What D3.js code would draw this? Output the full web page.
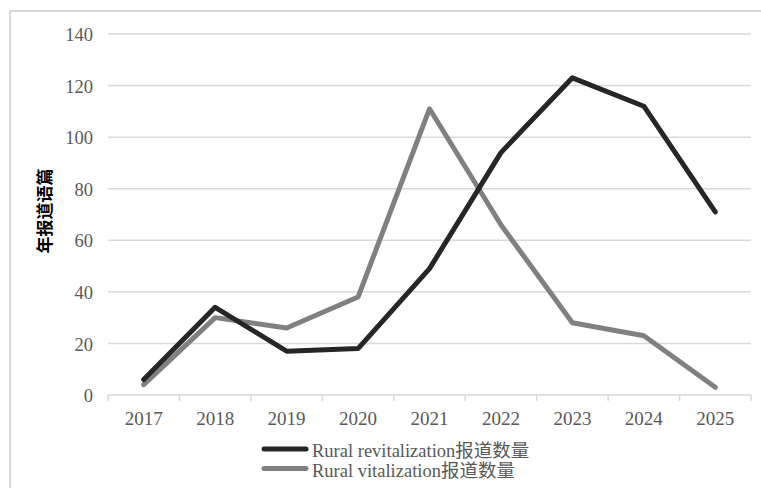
<!DOCTYPE html>
<html>
<head>
<meta charset="utf-8">
<script src="https://cdn.jsdelivr.net/npm/d3@7"></script>
<style>
  html, body { margin: 0; padding: 0; background: #fff; }
  svg { display: block; }
</style>
</head>
<body>
<svg id="chart" width="761" height="488"></svg>
<script>
// Yearly report counts for the two search terms
const years = ["2017", "2018", "2019", "2020", "2021", "2022", "2023", "2024", "2025"];
const revitalization = [6, 34, 17, 18, 49, 94, 123, 112, 71];
const vitalization = [4, 30, 26, 38, 111, 66, 28, 23, 3];
const yTicks = [0, 20, 40, 60, 80, 100, 120, 140];
const seriesNames = ["Rural revitalization报道数量", "Rural vitalization报道数量"];
const seriesColors = ["#262626", "#808080"];

const svg = d3.select("#chart");
const margin = { left: 108, right: 10, top: 34, bottom: 93 };
const plotW = 751 - margin.left;
const plotH = 395 - margin.top;

const serif = "'Liberation Serif', 'Times New Roman', 'Noto Sans CJK SC', serif";

// outer frame
svg.append("rect")
  .attr("x", 10).attr("y", 11)
  .attr("width", 770).attr("height", 500)
  .attr("fill", "none").attr("stroke", "#d9d9d9").attr("stroke-width", 2);

const x = d3.scaleBand().domain(years).range([margin.left, margin.left + plotW]);
const y = d3.scaleLinear().domain([0, 140]).range([margin.top + plotH, margin.top]);

// horizontal gridlines
svg.append("g").selectAll("line")
  .data(yTicks.filter(d => d > 0))
  .join("line")
  .attr("x1", margin.left).attr("x2", margin.left + plotW)
  .attr("y1", d => y(d)).attr("y2", d => y(d))
  .attr("stroke", "#d9d9d9").attr("stroke-width", 1.5);

// y axis labels
const yAxis = svg.append("g")
  .attr("transform", `translate(${margin.left},0)`)
  .call(d3.axisLeft(y).tickValues(yTicks).tickSize(0).tickPadding(15));
yAxis.select(".domain").remove();
yAxis.selectAll("text")
  .attr("fill", "#595959")
  .attr("dy", "0.36em")
  .style("font-family", serif)
  .style("font-size", "18.5px");

// x axis with tick marks on category boundaries
const baseY = y(0);
svg.append("line")
  .attr("x1", margin.left).attr("x2", margin.left + plotW)
  .attr("y1", baseY).attr("y2", baseY)
  .attr("stroke", "#d9d9d9").attr("stroke-width", 1.5);
const bounds = years.map(d => x(d)).concat([x(years[years.length - 1]) + x.bandwidth()]);
svg.append("g").selectAll("line")
  .data(bounds)
  .join("line")
  .attr("x1", d => d).attr("x2", d => d)
  .attr("y1", baseY).attr("y2", baseY + 6)
  .attr("stroke", "#d9d9d9").attr("stroke-width", 1.5);
svg.append("g").selectAll("text")
  .data(years)
  .join("text")
  .attr("x", d => x(d) + x.bandwidth() / 2)
  .attr("y", baseY + 30)
  .attr("text-anchor", "middle")
  .attr("fill", "#595959")
  .style("font-family", serif)
  .style("font-size", "19px")
  .text(d => d);

// y axis title
svg.append("text")
  .attr("transform", "translate(51,211) rotate(-90)")
  .attr("text-anchor", "middle")
  .attr("fill", "#000")
  .style("font-family", "'Noto Sans CJK SC', sans-serif")
  .style("font-weight", "bold")
  .style("font-size", "17px")
  .text("年报道语篇");

// series lines
const line = d3.line()
  .x((d, i) => x(years[i]) + x.bandwidth() / 2)
  .y(d => y(d));
[vitalization, revitalization].forEach((vals, k) => {
  const idx = k === 0 ? 1 : 0;
  svg.append("path")
    .datum(vals)
    .attr("d", line)
    .attr("fill", "none")
    .attr("stroke", seriesColors[idx])
    .attr("stroke-width", 5)
    .attr("stroke-linejoin", "round")
    .attr("stroke-linecap", "round");
});

// legend
const legend = svg.append("g");
seriesNames.forEach((name, i) => {
  const ly = 449 + i * 19.5;
  legend.append("line")
    .attr("x1", 264).attr("x2", 306)
    .attr("y1", ly).attr("y2", ly)
    .attr("stroke", seriesColors[i]).attr("stroke-width", 5)
    .attr("stroke-linecap", "round");
  legend.append("text")
    .attr("x", 312).attr("y", ly + 8)
    .attr("fill", "#595959")
    .style("font-family", serif)
    .style("font-size", "18.5px")
    .text(name);
});
</script>
</body>
</html>
